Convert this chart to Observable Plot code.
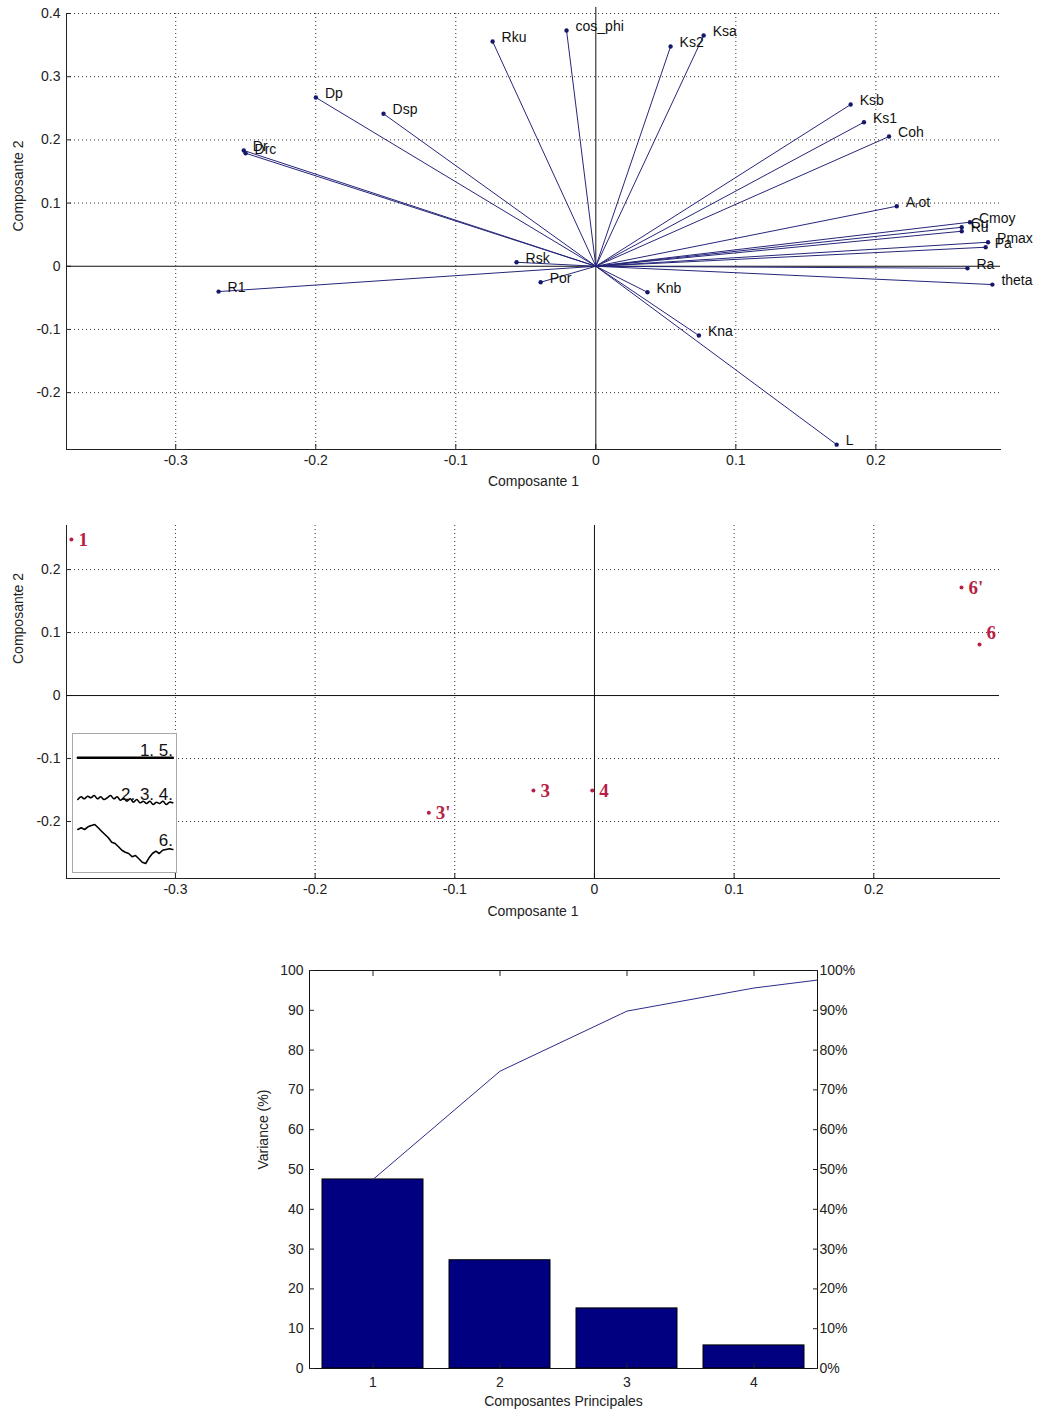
<!DOCTYPE html>
<html><head><meta charset="utf-8">
<script src="https://cdn.jsdelivr.net/npm/d3@7"></script>
<script src="https://cdn.jsdelivr.net/npm/@observablehq/plot@0.6"></script>
<style>
html,body{margin:0;padding:0;background:#fff;}
#wrap{position:relative;width:1045px;height:1413px;overflow:hidden;background:#fff;}
#wrap > svg, #wrap > div{position:absolute;}
</style></head><body><div id="wrap"></div>
<script>
// ---------- Chart 1 : variables (loadings) ----------
const varNames = ["Rku","cos_phi","Ks2","Ksa","Dp","Dsp","Dr","Drc","Ksb","Ks1","Coh","Aᵣot","Cmoy","Cu","Ru","Pmax","Pa","Ra","theta","Rsk","Por","Knb","Kna","L","R1"];
const varPC1 = [-0.0737,-0.0209,0.0534,0.0770,-0.1999,-0.1516,-0.2514,-0.2501,0.1820,0.1915,0.2094,0.2149,0.2672,0.2613,0.2613,0.2801,0.2784,0.2654,0.2832,-0.0566,-0.0394,0.0369,0.0736,0.1720,-0.2694];
const varPC2 = [0.3557,0.3731,0.3478,0.3652,0.2670,0.2413,0.1832,0.1789,0.2559,0.2280,0.2053,0.0950,0.0697,0.0617,0.0554,0.0380,0.0301,-0.0032,-0.0290,0.0063,-0.0253,-0.0412,-0.1097,-0.2823,-0.0401];
const c1XTicks = [-0.3,-0.2,-0.1,0,0.1,0.2];
const c1YTicks = [-0.2,-0.1,0,0.1,0.2,0.3,0.4];

// ---------- Chart 2 : individuals (scores) ----------
const obsNames = ["1","6'","6","3","4","3'"];
const obsPC1 = [-0.3745,0.2628,0.2757,-0.0437,-0.0016,-0.1186];
const obsPC2 = [0.2476,0.1714,0.0810,-0.1508,-0.1508,-0.1862];
const c2XTicks = [-0.3,-0.2,-0.1,0,0.1,0.2];
const c2YTicks = [-0.2,-0.1,0,0.1,0.2];

// legend inset (profile sketches)
const legendLabels = ["1. 5.","2. 3. 4.","6."];
const legendFlat = [24.3,24.3];
const legendWavy = [66,63.3,65.3,62.7,64.3,62,65.3,63.3,66,64.3,62,65.3,63.3,66.7,64.7,67.7,65.3,68.7,66,69.3,67.7,70,67.7,71,68.7,70,67.7,71,68.7,69.3];
const legendJagged = [96,94.3,96,93.3,92,91,94.3,97.7,101,104.3,108.7,110,113.3,116.7,118.7,120,123.3,122,125.3,128.7,130,124.3,120,117.7,120,116.7,116,115.3,116];

// ---------- Chart 3 : pareto of variance ----------
const components = [1,2,3,4,5];
const variance = [47.5,27.2,15.1,5.8,4.0];
const c3YTicks = [0,10,20,30,40,50,60,70,80,90,100];

// ---------------------------------------------------
const wrap = document.getElementById("wrap");
const FONT = '"Liberation Sans", Arial, Helvetica, sans-serif';
const fmt = d => String(d);
const baseStyle = {fontFamily: FONT, fontSize: "14px", color: "#222", background: "transparent", overflow: "visible"};
const gridStyle = {stroke: "#333", strokeDasharray: "1,3", strokeWidth: 1};
function place(el, left, top) { el.style.position = "absolute"; el.style.left = left + "px"; el.style.top = top + "px"; wrap.append(el); }

// Chart 1
const vars = varNames.map((name, i) => ({name, x: varPC1[i], y: varPC2[i]}));
const c1 = Plot.plot({
  width: 1045, height: 500,
  marginLeft: 66, marginRight: 45, marginTop: 13, marginBottom: 51,
  style: baseStyle,
  x: {domain: [-0.378, 0.289], ticks: c1XTicks, tickFormat: fmt, tickSize: -5, tickPadding: 11, line: true, label: null},
  y: {domain: [-0.29, 0.4], ticks: c1YTicks, tickFormat: fmt, tickSize: -5, tickPadding: 11, line: true, label: null},
  marks: [
    Plot.ruleY(c1YTicks.filter(d => d !== 0), gridStyle),
    Plot.ruleX(c1XTicks.filter(d => d !== 0), gridStyle),
    Plot.ruleY([0], {stroke: "#111"}),
    Plot.ruleX([0], {stroke: "#111", insetTop: -6}),
    Plot.link(vars, {x1: 0, y1: 0, x2: "x", y2: "y", stroke: "#26267a", strokeWidth: 1}),
    Plot.dot(vars, {x: "x", y: "y", r: 2.2, fill: "#18186a"}),
    Plot.text(vars, {x: "x", y: "y", text: "name", textAnchor: "start", dx: 9, dy: -4, fontSize: 14, fill: "#111"}),
    Plot.text(["Composante 1"], {frameAnchor: "bottom", dy: 36, fontSize: 14, fill: "#222"}),
    Plot.text(["Composante 2"], {frameAnchor: "left", dx: -48, rotate: -90, fontSize: 14, fill: "#222"})
  ]
});
place(c1, 0, 0);

// Chart 2
const obs = obsNames.map((name, i) => ({name, x: obsPC1[i], y: obsPC2[i]}));
const labelDy = {"6": -12};
const serif = '"Liberation Serif", "Times New Roman", serif';
const c2 = Plot.plot({
  width: 1045, height: 430,
  marginLeft: 66, marginRight: 46, marginTop: 25, marginBottom: 52,
  style: baseStyle,
  x: {domain: [-0.378, 0.290], ticks: c2XTicks, tickFormat: fmt, tickSize: -5, tickPadding: 11, line: true, label: null},
  y: {domain: [-0.2905, 0.27], ticks: c2YTicks, tickFormat: fmt, tickSize: -5, tickPadding: 11, line: true, label: null},
  marks: [
    Plot.ruleY(c2YTicks.filter(d => d !== 0), gridStyle),
    Plot.ruleX(c2XTicks.filter(d => d !== 0), gridStyle),
    Plot.ruleY([0], {stroke: "#111"}),
    Plot.ruleX([0], {stroke: "#111"}),
    Plot.dot(obs, {x: "x", y: "y", r: 2, fill: "#b81f47"}),
    Plot.text(obs.filter(d => !(d.name in labelDy)), {x: "x", y: "y", text: "name", textAnchor: "start", dx: 7, fontSize: 19, fontWeight: "bold", fontFamily: serif, fill: "#b81f47"}),
    Plot.text(obs.filter(d => d.name in labelDy), {x: "x", y: "y", text: "name", textAnchor: "start", dx: 7, dy: -12, fontSize: 19, fontWeight: "bold", fontFamily: serif, fill: "#b81f47"}),
    Plot.text(["Composante 1"], {frameAnchor: "bottom", dy: 37, fontSize: 14, fill: "#222"}),
    Plot.text(["Composante 2"], {frameAnchor: "left", dx: -48, dy: -38, rotate: -90, fontSize: 14, fill: "#222"})
  ]
});
place(c2, 0, 500);

// Legend inset in chart 2
const n1 = legendWavy.length, n2 = legendJagged.length;
const flatPts = legendFlat.map((v, i) => ({p: 5.3 + i * 95, v}));
const wavyPts = legendWavy.map((v, i) => ({p: 5.3 + i * 95 / (n1 - 1), v}));
const jagPts = legendJagged.map((v, i) => ({p: 5.3 + i * 95 / (n2 - 1), v}));
const legendRows = legendLabels.map((t, i) => ({t, v: [22.5, 66, 112][i]}));
const inset = Plot.plot({
  width: 104, height: 139, margin: 0,
  style: {fontFamily: FONT, background: "#fff", overflow: "visible"},
  x: {domain: [0, 104], range: [0, 104], axis: null},
  y: {domain: [0, 139], range: [0, 139], axis: null},
  marks: [
    Plot.frame({stroke: "#a8a8a8", fill: "#fff"}),
    Plot.line(flatPts, {x: "p", y: "v", stroke: "#000", strokeWidth: 2.5}),
    Plot.line(wavyPts, {x: "p", y: "v", stroke: "#000", strokeWidth: 1.6, curve: "catmull-rom"}),
    Plot.line(jagPts, {x: "p", y: "v", stroke: "#000", strokeWidth: 1.6}),
    Plot.text(legendRows, {x: () => 100.5, y: "v", text: "t", textAnchor: "end", lineAnchor: "bottom", fontSize: 17, fill: "#111"})
  ]
});
place(inset, 72, 733);

// Chart 3
const cum = d3.cumsum(variance);
const comp = components.map((k, i) => ({k, v: variance[i], c: cum[i]}));
const c3 = Plot.plot({
  width: 1045, height: 473,
  marginLeft: 309, marginRight: 228, marginTop: 30, marginBottom: 45,
  style: baseStyle,
  x: {domain: [0.5, 4.5]},
  y: {domain: [0, 100]},
  marks: [
    Plot.rectY(comp, {x1: d => d.k - 0.5, x2: d => d.k + 0.5, y: "v", insetLeft: 13, insetRight: 13, fill: "#000080", stroke: "#000", strokeWidth: 1, clip: true}),
    Plot.line(comp, {x: "k", y: "c", stroke: "#2a2a8c", strokeWidth: 1, clip: true}),
    Plot.frame({stroke: "#111"}),
    Plot.axisY({anchor: "left", ticks: c3YTicks, tickFormat: fmt, tickSize: -5, tickPadding: 11, label: null}),
    Plot.axisY({anchor: "right", ticks: c3YTicks, tickFormat: d => d + "%", tickSize: -5, tickPadding: 7, label: null}),
    Plot.axisX({anchor: "bottom", ticks: [1, 2, 3, 4], tickFormat: fmt, tickSize: -5, tickPadding: 14, label: null}),
    Plot.axisX({anchor: "top", ticks: [1, 2, 3, 4], tickFormat: () => "", tickSize: -5, label: null}),
    Plot.text(["Composantes Principales"], {frameAnchor: "bottom", dy: 37, fontSize: 14, fill: "#222"}),
    Plot.text(["Variance (%)"], {frameAnchor: "left", dx: -46, rotate: -90, fontSize: 14, fill: "#222"})
  ]
});
place(c3, 0, 940);
</script></body></html>
